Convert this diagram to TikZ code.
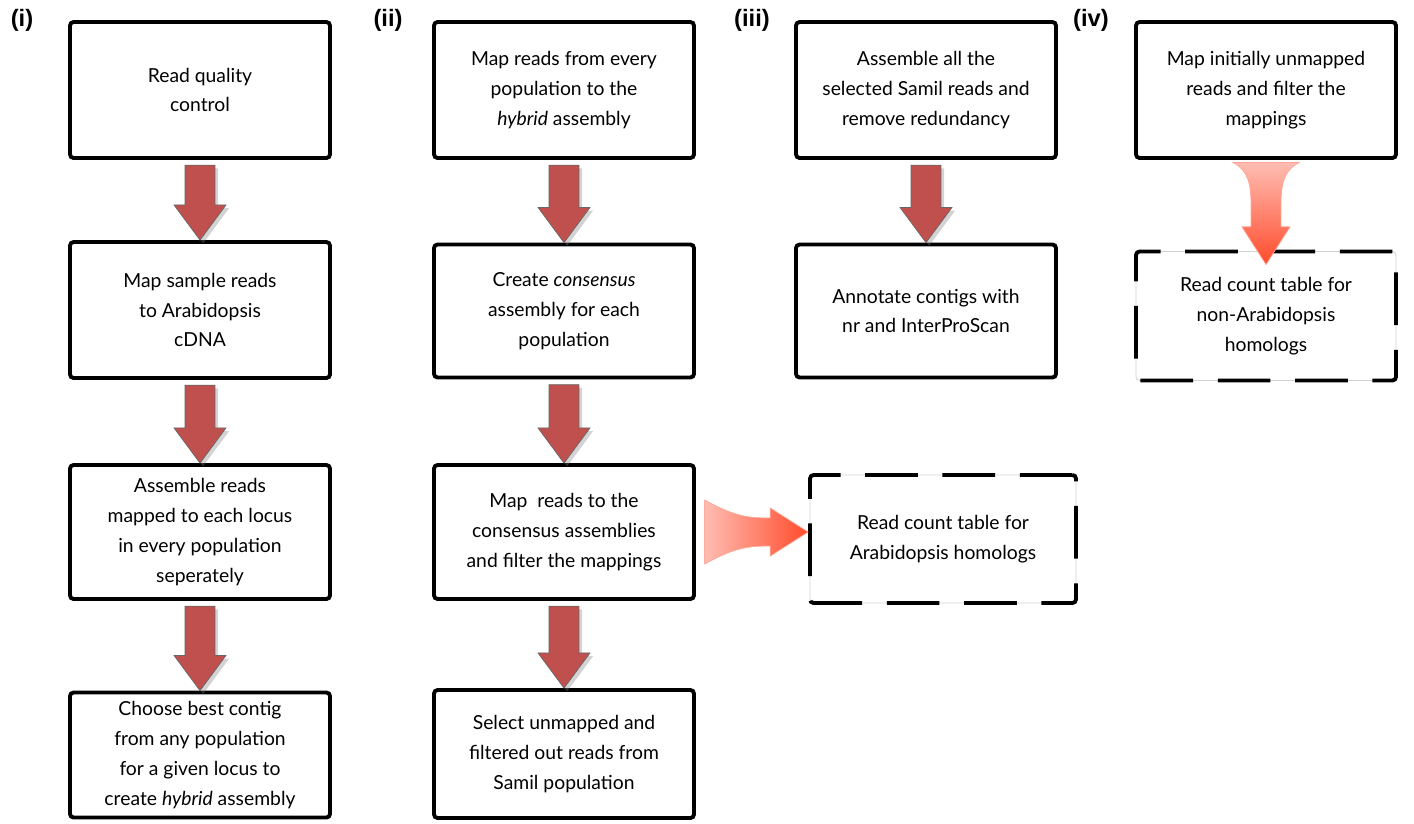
\documentclass[tikz,border=0pt]{standalone}
\usepackage{fontspec}
\setmainfont{Lato}
\newfontfamily\labelfont{Liberation Sans}
\usetikzlibrary{calc,shadows}
\definecolor{arrowred}{HTML}{C0504D}
\definecolor{fadelight}{HTML}{FFBDB3}
\definecolor{fadedark}{HTML}{FF4B2B}

% plain red block arrow from one box down to the next
\newcommand{\blockdown}[2]{%
  \path[down arrow] let \p1=(#1.south), \p2=(#2.north) in
    (\x1-8.5pt,\y1-3pt) -- (\x1+8.5pt,\y1-3pt) -- (\x1+8.5pt,\y2+20pt)
    -- (\x1+14.8pt,\y2+20pt) -- (\x1,\y2) -- (\x1-14.8pt,\y2+20pt)
    -- (\x1-8.5pt,\y2+20pt) -- cycle;}

\begin{document}
\begin{tikzpicture}[x=0.02cm,y=-0.02cm,
  flow box/.style={draw,line width=2.2pt,rounded corners=2pt,align=center,
    minimum width=5.2cm,inner sep=0pt,font=\fontsize{11}{17}\selectfont},
  result box/.style={flow box,dash pattern=on 30pt off 14pt,
    preaction={draw,gray!35,line width=0.5pt,solid}},
  part label/.style={font=\labelfont\bfseries\fontsize{13.5}{15}\selectfont},
  down arrow/.style={fill=arrowred,draw=gray!80!black,line width=0.4pt,
    drop shadow={opacity=0.35,shadow xshift=1.8pt,shadow yshift=-1.8pt}},
  fade arrow v/.style={top color=fadelight,bottom color=fadedark,
    draw=fadedark!50!white,line width=0.4pt},
  fade arrow h/.style={left color=fadelight,right color=fadedark,
    draw=fadedark!50!white,line width=0.4pt}]
\useasboundingbox (0,0) rectangle (1414,823);

\node[part label] (l1) at (22,20) {(i)};
\node[part label] (l2) at (388,20) {(ii)};
\node[part label] (l3) at (752,20) {(iii)};
\node[part label] (l4) at (1091,20) {(iv)};

% (i)
\node[flow box,minimum height=2.72cm] (a1) at (200,90) {Read quality\\control};
\node[flow box,minimum height=2.72cm] (a2) at (200,310) {Map sample reads\\to Arabidopsis\\cDNA};
\node[flow box,minimum height=2.68cm] (a3) at (200,532) {Assemble reads\\mapped to each locus\\in every population\\seperately};
\node[flow box,minimum height=2.5cm] (a4) at (200,755) {Choose best contig\\from any population\\for a given locus to\\create \textit{hybrid} assembly};

% (ii)
\node[flow box,minimum height=2.72cm] (b1) at (564,90) {Map reads from every\\population to the\\\textit{hybrid} assembly};
\node[flow box,minimum height=2.66cm] (b2) at (564,311) {Create \textit{consensus}\\assembly for each\\population};
\node[flow box,minimum height=2.68cm] (b3) at (564,532) {Map~ reads to the\\consensus assemblies\\and filter the mappings};
\node[flow box,minimum height=2.56cm] (b4) at (564,754) {Select unmapped and\\filtered out reads from\\Samil population};
\node[result box,minimum width=5.32cm,minimum height=2.56cm] (bres) at (943,539) {Read count table for\\Arabidopsis homologs};

% (iii)
\node[flow box,minimum height=2.72cm] (c1) at (926,90) {Assemble all the\\selected Samil reads and\\remove redundancy};
\node[flow box,minimum height=2.66cm] (c2) at (926,311) {Annotate contigs with\\nr and InterProScan};

% (iv)
\node[flow box,minimum height=2.72cm] (d1) at (1266,90) {Map initially unmapped\\reads and filter the\\mappings};
\node[result box,minimum height=2.58cm] (dres) at (1266,316) {Read count table for\\non-Arabidopsis\\homologs};

\blockdown{a1}{a2}
\blockdown{a2}{a3}
\blockdown{a3}{a4}
\blockdown{b1}{b2}
\blockdown{b2}{b3}
\blockdown{b3}{b4}
\blockdown{c1}{c2}

\path[fade arrow v] let \p1=(d1.south), \p2=(dres.north) in
  (\x1-18.8pt,\y1-1.5pt) -- (\x1+18.8pt,\y1-1.5pt)
  .. controls (\x1+10pt,\y1-6pt) and (\x1+8.5pt,\y1-14pt) .. (\x1+8.5pt,\y1-26pt)
  -- (\x1+8.5pt,\y2+13pt) -- (\x1+13.7pt,\y2+13pt) -- (\x1,\y2-8.5pt)
  -- (\x1-13.7pt,\y2+13pt) -- (\x1-8.5pt,\y2+13pt) -- (\x1-8.5pt,\y1-26pt)
  .. controls (\x1-8.5pt,\y1-14pt) and (\x1-10pt,\y1-6pt) .. cycle;

\path[fade arrow h] let \p1=(b3.east), \p2=(bres.west) in
  (\x1+5pt,\y1+18.2pt) .. controls (\x1+20pt,\y1+10pt) and (\x1+28pt,\y1+8pt) .. (\x2-24pt,\y1+8pt)
  -- (\x2-21.6pt,\y1+8pt) -- (\x2-21.6pt,\y1+13.7pt) -- (\x2,\y1)
  -- (\x2-21.6pt,\y1-13.7pt) -- (\x2-21.6pt,\y1-8pt) -- (\x2-24pt,\y1-8pt)
  .. controls (\x1+28pt,\y1-8pt) and (\x1+20pt,\y1-10pt) .. (\x1+5pt,\y1-18.2pt) -- cycle;
\end{tikzpicture}
\end{document}
